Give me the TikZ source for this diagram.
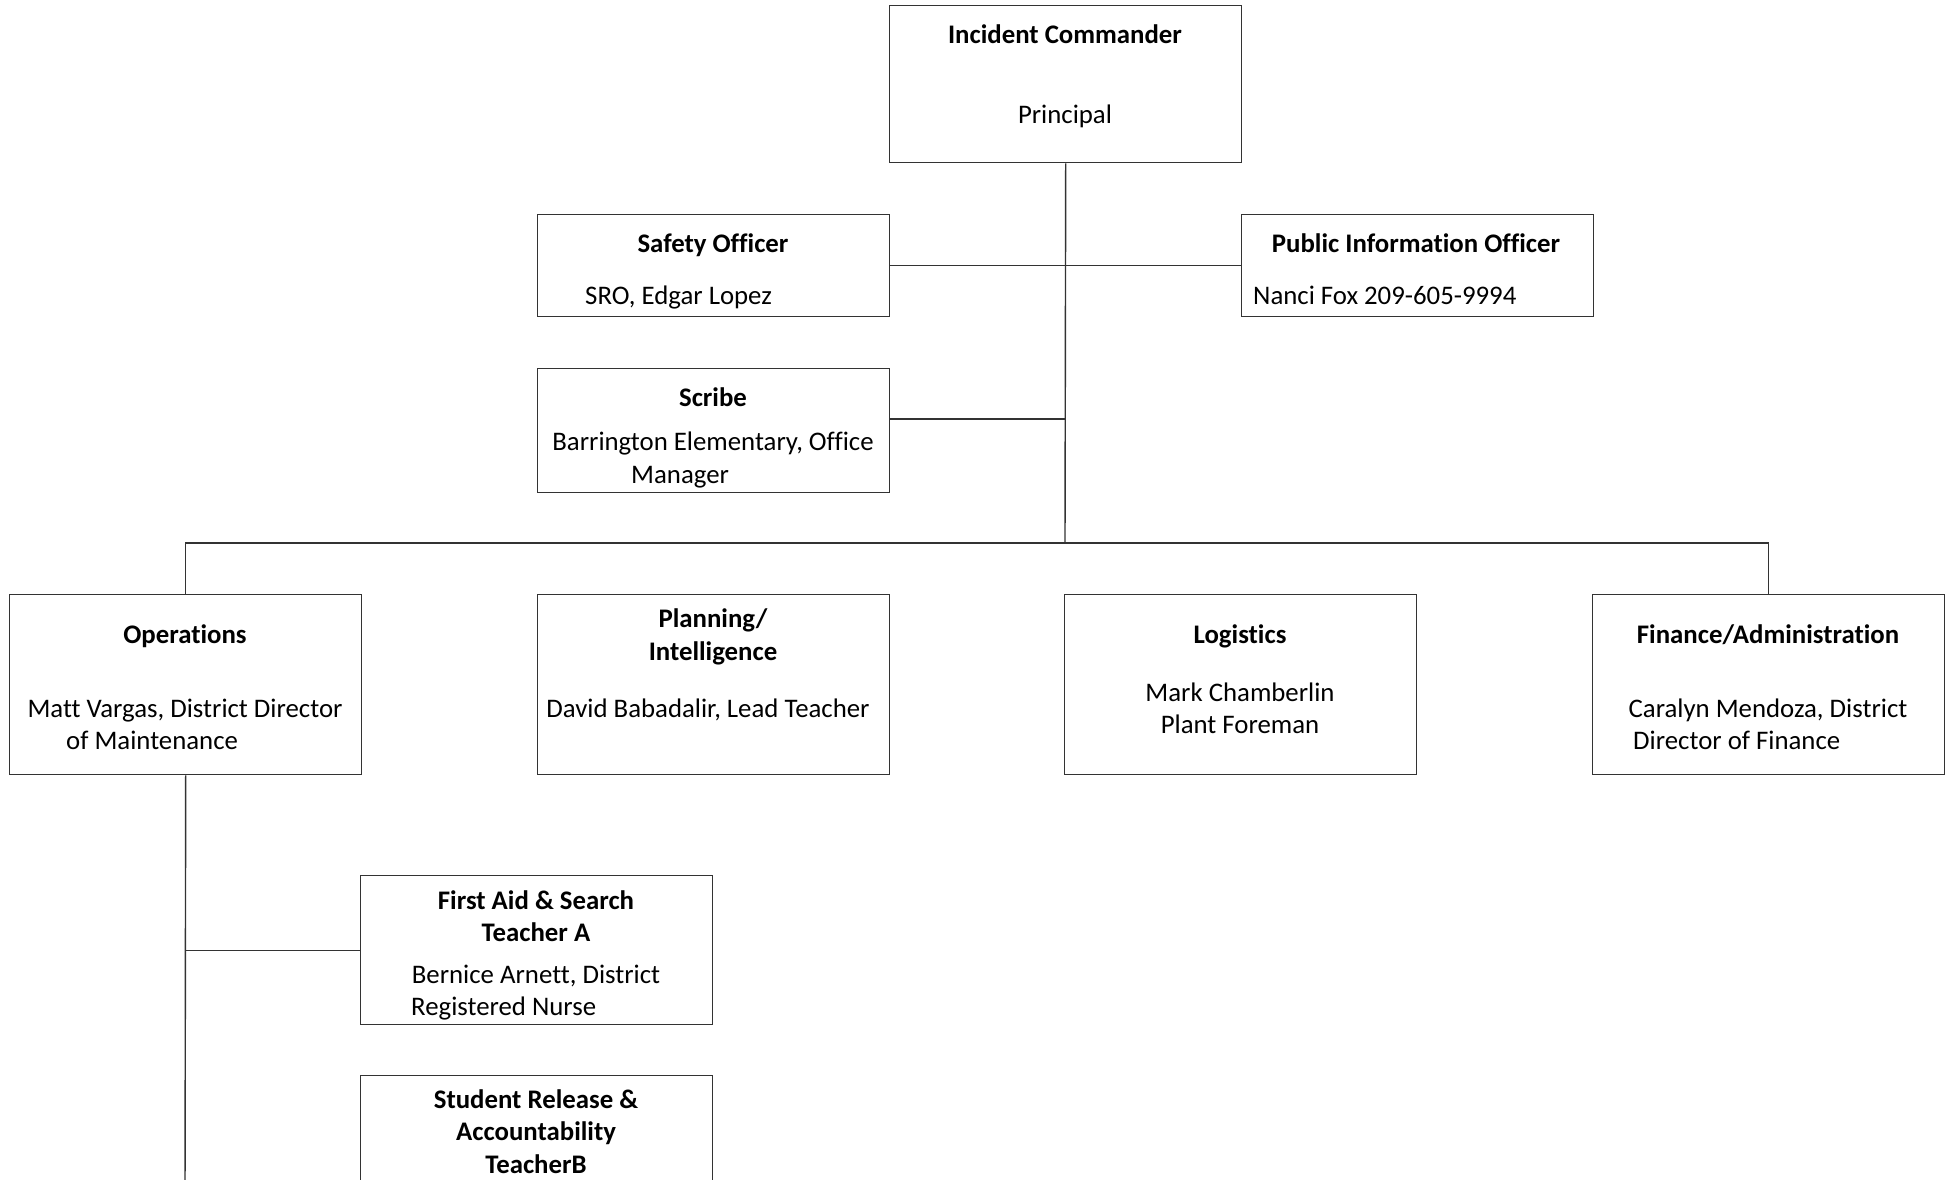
\documentclass[tikz,border=0pt]{standalone}
\usepackage{fontspec}
\setmainfont{Carlito}[Ligatures=NoCommon]
\begin{document}
\begin{tikzpicture}[x=1pt,y=-1pt,
  box/.style={draw=black!80, line width=1.4pt, fill=white, anchor=north west, minimum width=352pt, inner sep=0pt},
  conn/.style={draw=black!80, line width=1.4pt},
  tb/.style={inner sep=0pt, anchor=base, font=\fontsize{26.8}{32}\selectfont\bfseries},
  tr/.style={inner sep=0pt, anchor=base, font=\fontsize{26.8}{32}\selectfont},
  trl/.style={inner sep=0pt, anchor=base west, font=\fontsize{26.8}{32}\selectfont}]
\useasboundingbox (0,0) rectangle (1949,1179);
\clip (0,0) rectangle (1949,1179);
\fill[white] (0,0) rectangle (1949,1179);

\coordinate (bus) at (1065,543);
\coordinate (scribeport) at (889,419);
\coordinate (opsend) at (185,1200);

% boxes
\node[box, minimum height=157pt] (ic) at (889,5) {};
\node[box, minimum height=102pt] (safety) at (537,214) {};
\node[box, minimum height=102pt] (pio) at (1241,214) {};
\node[box, minimum height=124pt] (scribe) at (537,368) {};
\node[box, minimum height=180pt] (ops) at (9,594) {};
\node[box, minimum height=180pt] (plan) at (537,594) {};
\node[box, minimum height=180pt] (log) at (1064,594) {};
\node[box, minimum height=180pt] (fin) at (1592,594) {};
\node[box, minimum height=149pt] (firstaid) at (360,875) {};
\node[box, minimum height=260pt] (student) at (360,1075) {};

% connectors
\draw[conn] (ic.south) -- (bus);
\draw[conn] (safety.east) -- (pio.west);
\draw[conn] (scribeport) -- (scribeport -| ic.south);
\draw[conn] (ops.north) -- (ops.north |- bus) -- (fin.north |- bus) -- (fin.north);
\draw[conn] (ops.south) -- (opsend);
\draw[conn] (firstaid.west) -- (firstaid.west -| ops.south);

% texts
\node[tb] (ict) at (1065,43) {Incident Commander};
\node[tr] (icb) at (1065,123) {Principal};
\node[tb] (sot) at (713,252) {Safety Officer};
\node[trl] (sob) at (585,304) {SRO, Edgar Lopez};
\node[tb] (piot) at (1416,252) {Public Information Officer};
\node[trl] (piob) at (1253,304) {Nanci Fox 209-605-9994};
\node[tb] (sct) at (713,406) {Scribe};
\node[tr] (scb1) at (713,450) {Barrington Elementary, Office};
\node[trl] (scb2) at (631,483) {Manager};
\node[tb] (opt) at (185,643) {Operations};
\node[tr] (opb1) at (185,717) {Matt Vargas, District Director};
\node[trl] (opb2) at (66,749) {of Maintenance};
\node[tb] (plt1) at (713,627) {Planning/};
\node[tb] (plt2) at (713,660) {Intelligence};
\node[tr] (plb) at (708,717) {David Babadalir, Lead Teacher};
\node[tb] (lgt) at (1240,643) {Logistics};
\node[tr] (lgb1) at (1240,701) {Mark Chamberlin};
\node[tr] (lgb2) at (1240,733) {Plant Foreman};
\node[tb] (fnt) at (1768,643) {Finance/Administration};
\node[tr] (fnb1) at (1768,717) {Caralyn Mendoza, District};
\node[trl] (fnb2) at (1633,749) {Director of Finance};
\node[tb] (fat1) at (536,909) {First Aid \& Search};
\node[tb] (fat2) at (536,941) {Teacher A};
\node[tr] (fab1) at (536,983) {Bernice Arnett, District};
\node[trl] (fab2) at (411,1015) {Registered Nurse};
\node[tb] (srt1) at (536,1108) {Student Release \&};
\node[tb] (srt2) at (536,1140) {Accountability};
\node[tb] (srt3) at (536,1173) {TeacherB};
\end{tikzpicture}
\end{document}
